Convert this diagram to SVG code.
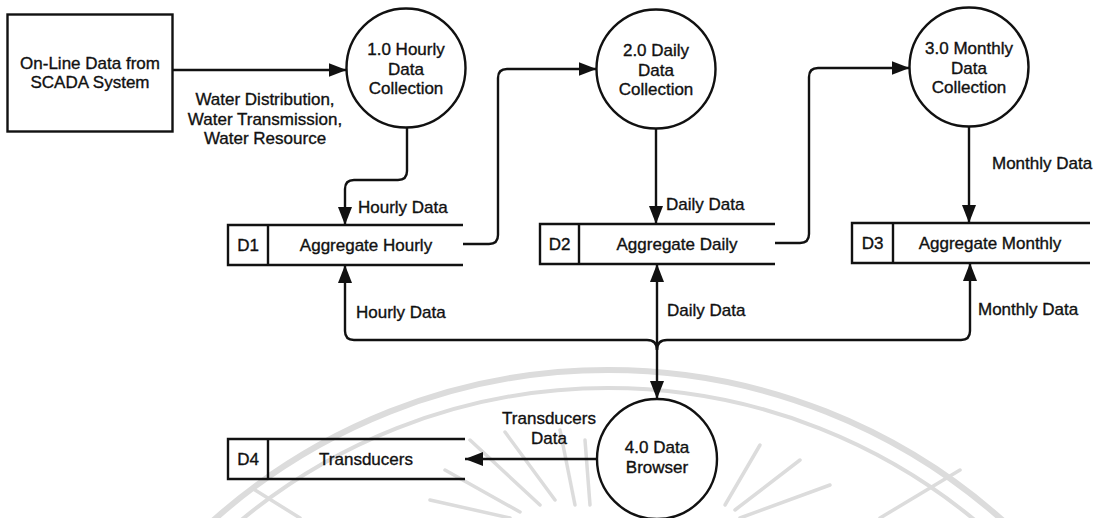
<svg xmlns="http://www.w3.org/2000/svg" width="1103" height="518" viewBox="0 0 1103 518">
  <style>
    .bg { fill: #ffffff; }
    .seal { fill: none; stroke: #dcdcdc; stroke-linecap: round; }
    .shape { fill: none; stroke: #111111; stroke-width: 2.4; }
    .wire { fill: none; stroke: #111111; stroke-width: 2.4; }
    text { font-family: "Liberation Sans", Arial, sans-serif; font-size: 17px; fill: #111111; stroke: #111111; stroke-width: 0.35; }
    .mid { text-anchor: middle; }
  </style>
  <defs>
    <marker id="head" markerUnits="userSpaceOnUse" markerWidth="18" markerHeight="14" refX="18" refY="7" orient="auto-start-reverse">
      <path d="M0,0 L18,7 L0,14 Z" fill="#111111"/>
    </marker>
  </defs>

  <rect class="bg" x="0" y="0" width="1103" height="518"/>

  <!-- faint seal in the background -->
  <g id="seal" class="seal">
    <circle cx="608" cy="963" r="593" stroke-width="6"/>
    <circle cx="608" cy="963" r="575" stroke-width="4"/>
    <g stroke-width="3.5">
      <line x1="540" y1="505" x2="470" y2="440"/>
      <line x1="555" y1="500" x2="505" y2="432"/>
      <line x1="575" y1="505" x2="560" y2="430"/>
      <line x1="590" y1="505" x2="585" y2="440"/>
      <line x1="725" y1="505" x2="760" y2="445"/>
      <line x1="735" y1="510" x2="800" y2="460"/>
      <line x1="740" y1="518" x2="830" y2="485"/>
      <line x1="520" y1="512" x2="445" y2="470"/>
      <line x1="510" y1="518" x2="430" y2="500"/>
      <line x1="880" y1="518" x2="960" y2="470"/>
      <line x1="300" y1="518" x2="255" y2="490"/>
    </g>
  </g>

  <!-- connectors -->
  <g id="connectors" class="wire">
    <path d="M173,70 H346.5" marker-end="url(#head)"/>
    <path d="M407,127.5 V171 Q407,180 398,180 H354 Q345,180 345,189 V225" marker-end="url(#head)"/>
    <path d="M463,244 H489 Q498,244 498,235 V78 Q498,69 507,69 H596.5" marker-end="url(#head)"/>
    <path d="M656,128.5 V224" marker-end="url(#head)"/>
    <path d="M775,243 H800 Q809,243 809,234 V77 Q809,68 818,68 H909.5" marker-end="url(#head)"/>
    <path d="M969,126.5 V223" marker-end="url(#head)"/>
    <path d="M657,264 V399" marker-start="url(#head)" marker-end="url(#head)"/>
    <path d="M345,265 V331 Q345,340 354,340 H647 Q657,340 657,350" marker-start="url(#head)"/>
    <path d="M970,263 V331 Q970,340 961,340 H667 Q657,340 657,350" marker-start="url(#head)"/>
    <path d="M597,459 H465" marker-end="url(#head)"/>
  </g>

  <!-- connector labels -->
  <g id="labels">
    <text class="mid" x="265" y="105">Water Distribution,</text>
    <text class="mid" x="265" y="125">Water Transmission,</text>
    <text class="mid" x="265" y="144">Water Resource</text>
    <text x="358" y="213">Hourly Data</text>
    <text x="666" y="210">Daily Data</text>
    <text x="992" y="169">Monthly Data</text>
    <text x="356" y="318">Hourly Data</text>
    <text x="667" y="316">Daily Data</text>
    <text x="978" y="315">Monthly Data</text>
    <text class="mid" x="549" y="424">Transducers</text>
    <text class="mid" x="549" y="444">Data</text>
  </g>

  <!-- external entity -->
  <g id="scada">
    <rect class="shape" x="7.5" y="14.5" width="165" height="117"/>
    <text class="mid" x="90" y="69">On-Line Data from</text>
    <text class="mid" x="90" y="88">SCADA System</text>
  </g>

  <!-- processes -->
  <g id="p1">
    <circle class="shape" cx="406" cy="68" r="59.5"/>
    <text class="mid" x="406" y="55">1.0 Hourly</text>
    <text class="mid" x="406" y="75">Data</text>
    <text class="mid" x="406" y="94">Collection</text>
  </g>
  <g id="p2">
    <circle class="shape" cx="656" cy="69" r="59.5"/>
    <text class="mid" x="656" y="56">2.0 Daily</text>
    <text class="mid" x="656" y="76">Data</text>
    <text class="mid" x="656" y="95">Collection</text>
  </g>
  <g id="p3">
    <circle class="shape" cx="969" cy="67" r="59.5"/>
    <text class="mid" x="969" y="54">3.0 Monthly</text>
    <text class="mid" x="969" y="74">Data</text>
    <text class="mid" x="969" y="93">Collection</text>
  </g>
  <g id="p4">
    <circle class="shape" cx="657" cy="459" r="60"/>
    <text class="mid" x="657" y="453">4.0 Data</text>
    <text class="mid" x="657" y="473">Browser</text>
  </g>

  <!-- data stores -->
  <g id="d1">
    <path class="shape" d="M463,225 H228 V265 H463 M268,225 V265"/>
    <text class="mid" x="248" y="251">D1</text>
    <text class="mid" x="366" y="251">Aggregate Hourly</text>
  </g>
  <g id="d2">
    <path class="shape" d="M775,224 H540 V264 H775 M579,224 V264"/>
    <text class="mid" x="559.5" y="250">D2</text>
    <text class="mid" x="677" y="250">Aggregate Daily</text>
  </g>
  <g id="d3">
    <path class="shape" d="M1090,223 H852 V263 H1090 M893,223 V263"/>
    <text class="mid" x="872.5" y="249">D3</text>
    <text class="mid" x="990" y="249">Aggregate Monthly</text>
  </g>
  <g id="d4">
    <path class="shape" d="M465,439 H228 V479 H465 M268,439 V479"/>
    <text class="mid" x="248" y="465">D4</text>
    <text class="mid" x="366" y="465">Transducers</text>
  </g>
</svg>
